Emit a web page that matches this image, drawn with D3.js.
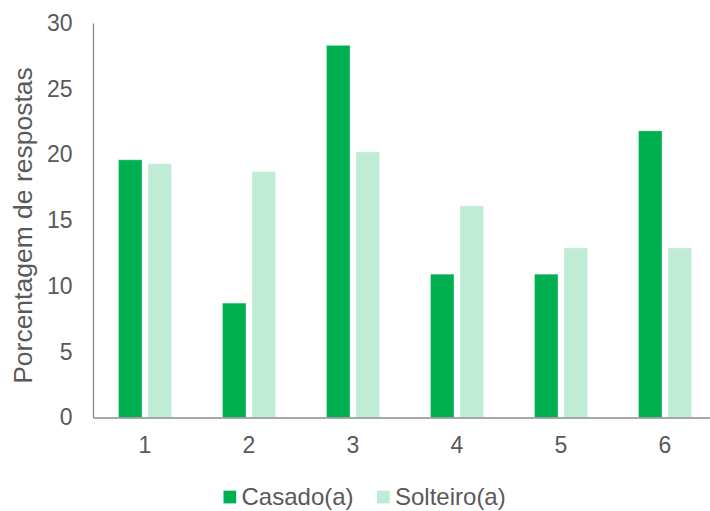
<!DOCTYPE html>
<html>
<head>
<meta charset="utf-8">
<script src="https://cdn.jsdelivr.net/npm/d3@7"></script>
<style>
  html, body { margin: 0; padding: 0; background: #fff; }
  svg { display: block; font-family: "Liberation Sans", Arial, sans-serif; }
</style>
</head>
<body>
<svg id="chart" width="710" height="511"></svg>
<script>
// Response share by group, per answer option
const categories = ["1", "2", "3", "4", "5", "6"];
const seriesNames = ["Casado(a)", "Solteiro(a)"];
const casado = [19.6, 8.7, 28.3, 10.9, 10.9, 21.8];
const solteiro = [19.3, 18.7, 20.2, 16.1, 12.9, 12.9];
const yTicks = [0, 5, 10, 15, 20, 25, 30];
const yTitle = "Porcentagem de respostas";
const colors = ["#00B050", "#C0EBD5"];
const textColor = "#595959";
const fontFamily = "Liberation Sans, Arial, sans-serif";

const svg = d3.select("#chart");
const x0 = 93, x1 = 717, yTop = 23, yBase = 417.5;

const x = d3.scaleBand().domain(categories).range([x0, x1]);
const y = d3.scaleLinear().domain([0, 30]).range([yBase, yTop]);
const barW = 23.5, gap = 6, groupW = barW * 2 + gap;

const rows = categories.map((c, i) => ({ cat: c, vals: [casado[i], solteiro[i]] }));

// bars, two per category
const g = svg.append("g");
rows.forEach(r => {
  const gx = x(r.cat) + x.bandwidth() / 2 - groupW / 2;
  r.vals.forEach((v, j) => {
    g.append("rect")
      .attr("x", gx + j * (barW + gap))
      .attr("y", y(v))
      .attr("width", barW)
      .attr("height", yBase - y(v))
      .attr("fill", colors[j])
      .attr("stroke", "#ffffff")
      .attr("stroke-opacity", 0.35)
      .attr("stroke-width", 1);
  });
});

// y axis
const yAxis = svg.append("g")
  .attr("transform", `translate(${x0},0)`)
  .call(d3.axisLeft(y).tickValues(yTicks).tickSize(0).tickPadding(20.5).tickFormat(d3.format("d")));
yAxis.select(".domain").attr("stroke", "#8c8c8c").attr("stroke-width", 1.3);
yAxis.selectAll("text").attr("fill", textColor).attr("font-size", 23).attr("font-family", fontFamily);

// x axis
const xAxis = svg.append("g")
  .attr("transform", `translate(0,${yBase})`)
  .call(d3.axisBottom(x).tickSize(0).tickPadding(19));
xAxis.select(".domain").attr("stroke", "#8c8c8c").attr("stroke-width", 1.3);
xAxis.selectAll("text").attr("fill", textColor).attr("font-size", 23).attr("font-family", fontFamily);

// axis title
svg.append("text")
  .attr("transform", `translate(32,${225.5}) rotate(-90)`)
  .attr("text-anchor", "middle")
  .attr("fill", textColor)
  .attr("font-size", 26.5)
  .text(yTitle);

// legend
const legendItems = [{ name: seriesNames[0], x: 223.5 }, { name: seriesNames[1], x: 377 }];
legendItems.forEach((d, i) => {
  svg.append("rect").attr("x", d.x).attr("y", 490.7).attr("width", 12.7).attr("height", 12.7).attr("fill", colors[i]);
  svg.append("text").attr("x", d.x + 18).attr("y", 505).attr("fill", textColor).attr("font-size", 24).text(d.name);
});
</script>
</body>
</html>
